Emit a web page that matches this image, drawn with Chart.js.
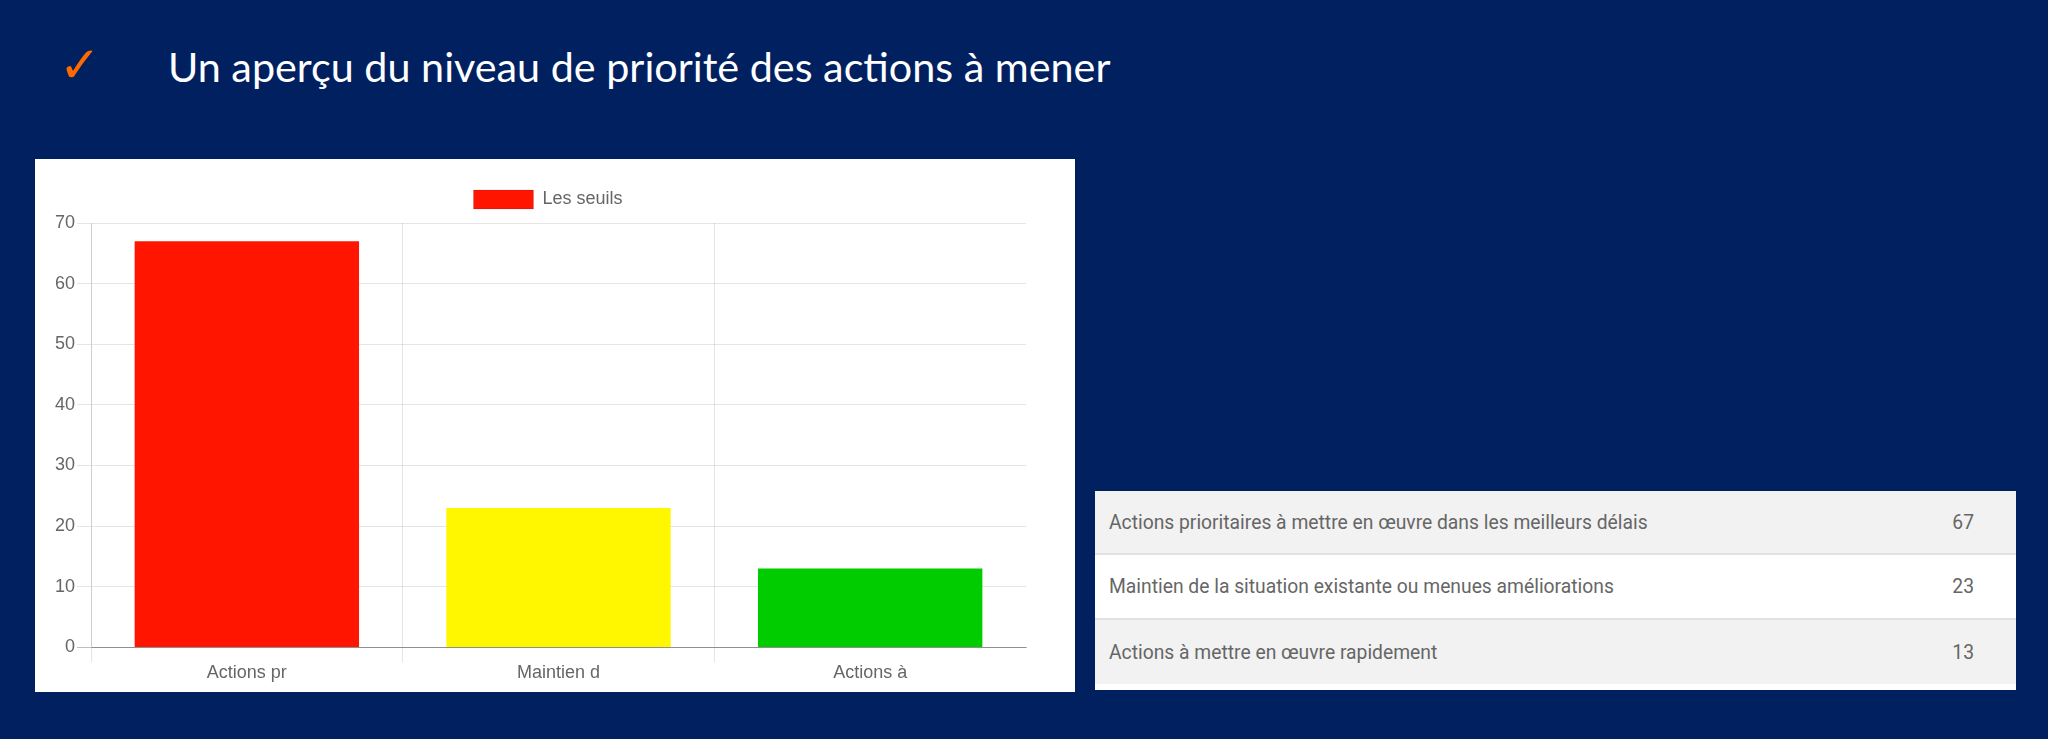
<!DOCTYPE html>
<html>
<head>
<meta charset="utf-8">
<script src="https://cdn.jsdelivr.net/npm/chart.js@4/dist/chart.umd.min.js"></script>
<style>
  html, body { margin: 0; padding: 0; }
  body { width: 2048px; height: 739px; background: #002060; position: relative; overflow: hidden; }
  #check { position: absolute; left: 59px; top: 40px; color: #ff6a00; font: 50px "DejaVu Sans"; line-height: 1; }
  #title { position: absolute; left: 168px; top: 46px; color: #ffffff; font: 41.3px Lato; line-height: 1; white-space: nowrap; }
  #chartBox { position: absolute; left: 35px; top: 159px; width: 1040px; height: 533px; background: #ffffff; }
  #table { position: absolute; left: 1095px; top: 491px; width: 921px; background: #ffffff; font-family: Roboto; font-size: 19.3px; color: #666666; }
  .row { position: relative; display: flex; align-items: center; justify-content: space-between; padding: 0 42px 0 14px; box-sizing: border-box; }
  .sep { height: 2px; background: #e2e2e2; }
</style>
</head>
<body>
<div id="check">✓</div>
<div id="title">Un aperçu du niveau de priorité des actions à mener</div>
<div id="chartBox"><canvas id="c"></canvas></div>
<div id="table"></div>
<script>
// ---- data ----
const categories = ["Actions pr", "Maintien d", "Actions à"];
const fullLabels = [
  "Actions prioritaires à mettre en œuvre dans les meilleurs délais",
  "Maintien de la situation existante ou menues améliorations",
  "Actions à mettre en œuvre rapidement"
];
const seriesName = "Les seuils";
const values = [67, 23, 13];
const barColors = ["#ff1500", "#fff700", "#00cc00"];
const yTicks = [0, 10, 20, 30, 40, 50, 60, 70];

// ---- table ----
const rowHeights = [62, 63, 64];
const rowBgs = ["#f2f2f2", "#ffffff", "#f2f2f2"];
const table = document.getElementById('table');
fullLabels.forEach((lab, i) => {
  if (i > 0) { const s = document.createElement('div'); s.className = 'sep'; table.appendChild(s); }
  const r = document.createElement('div');
  r.className = 'row';
  r.style.height = rowHeights[i] + 'px';
  r.style.background = rowBgs[i];
  const a = document.createElement('span'); a.textContent = lab;
  const b = document.createElement('span'); b.textContent = values[i];
  r.appendChild(a); r.appendChild(b);
  table.appendChild(r);
});
const tail = document.createElement('div'); tail.style.height = '6px'; tail.style.background = '#fff'; table.appendChild(tail);

// ---- chart ----
const legendTweak = {
  id: 'legendTweak',
  beforeInit(chart) {
    const fit = chart.legend.fit;
    chart.legend.fit = function () { fit.call(this); this.height += 4; };
  },
  afterLayout(chart) {
    chart.legend.left += 8.5;
    chart.legend.right += 8.5;
  }
};
const FONT = { family: '"Liberation Sans", Arial, sans-serif', size: 18 };
new Chart(document.getElementById('c'), {
  type: 'bar',
  data: {
    labels: categories,
    datasets: [{
      label: seriesName,
      data: values,
      backgroundColor: barColors,
      borderWidth: 0
    }]
  },
  plugins: [legendTweak],
  options: {
    responsive: true,
    maintainAspectRatio: false,
    animation: false,
    layout: { padding: { top: 17, left: 18, right: 49, bottom: 8 } },
    plugins: {
      legend: {
        display: true,
        position: 'top',
        labels: {
          boxWidth: 60, boxHeight: 19, padding: 14, color: '#666666', font: FONT,
          generateLabels: (chart) => [{ text: seriesName, fillStyle: barColors[0], strokeStyle: 'rgba(0,0,0,0.1)', lineWidth: 1, hidden: false, datasetIndex: 0, fontColor: '#666666' }]
        }
      },
      tooltip: { enabled: false }
    },
    scales: {
      x: {
        grid: {
          offset: true,
          color: (ctx) => ctx.type === 'tick' ? 'rgba(0,0,0,0.1)' : 'rgba(0,0,0,0)',
          tickLength: 15, lineWidth: 1
        },
        border: { display: true, color: 'rgba(0,0,0,0.25)', width: 1 },
        ticks: { color: '#666666', font: FONT, padding: 0 }
      },
      y: {
        min: 0, max: yTicks[yTicks.length - 1],
        afterBuildTicks: (axis) => { axis.ticks = yTicks.map(v => ({ value: v })); },
        grid: {
          color: (ctx) => ctx.tick && ctx.tick.value === 0 ? 'rgba(0,0,0,0.25)' : 'rgba(0,0,0,0.1)',
          tickLength: 14, lineWidth: 1
        },
        border: { display: true, color: 'rgba(0,0,0,0.1)', width: 1 },
        ticks: { color: '#666666', font: FONT, padding: 2 }
      }
    }
  }
});
</script>
</body>
</html>
